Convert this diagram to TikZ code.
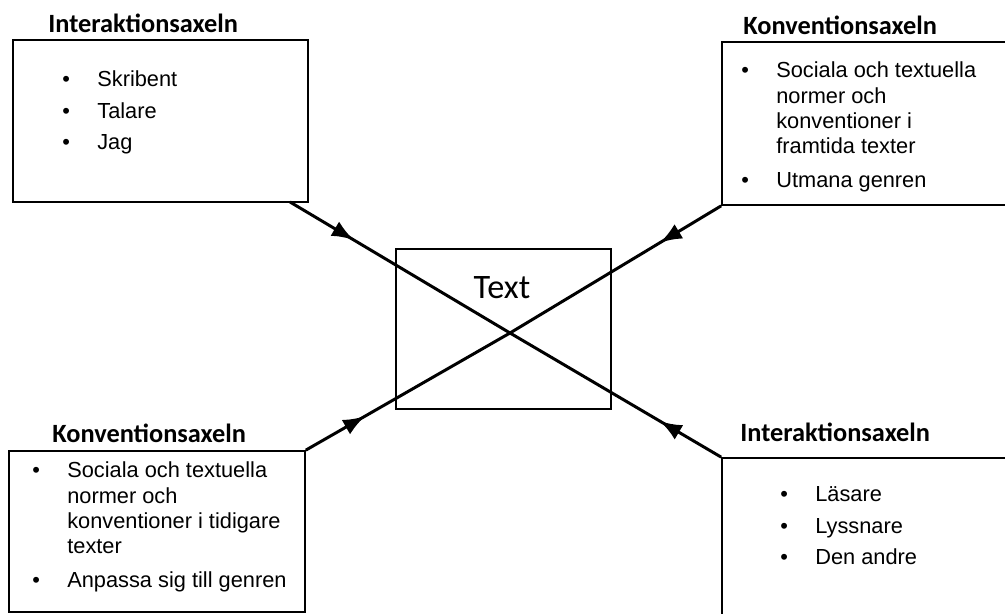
\documentclass[tikz,border=0pt]{standalone}
\usepackage{fontspec}
\setmainfont{Liberation Sans}
\newfontfamily\calibri{Carlito}
\usetikzlibrary{arrows.meta,decorations.markings}

\newcommand{\pkt}{\makebox[0.7cm][l]{\textbullet}}

\begin{document}
\begin{tikzpicture}[x=0.02cm,y=-0.02cm]
      \tikzstyle{boite}=[draw, line width=1pt, inner sep=0pt]
      \tikzstyle{titre}=[anchor=base west, inner sep=0pt, font=\calibri\bfseries\fontsize{15}{18}\selectfont]
      \tikzstyle{liste}=[anchor=base west, inner sep=0pt, font=\fontsize{12.4}{14.3}\selectfont]
      \tikzstyle{fleche}=[line width=1.7pt, decoration={markings, mark=at position 0.29 with {\arrow{Latex[length=12.5pt,width=9.5pt]}}}, postaction={decorate}]

      \clip (0,0) rectangle (1005,614);

      % boxes
      \node[boite, minimum width=5.9cm, minimum height=3.24cm] (IntH) at (160.5,121) {};
      \node[boite, minimum width=5.8cm, minimum height=3.26cm] (KonvH) at (867,123.5) {};
      \node[boite, minimum width=5.92cm, minimum height=3.22cm] (KonvB) at (157,531.5) {};
      \node[boite, minimum width=5.8cm, minimum height=3.28cm] (IntB) at (867,540) {};
      \node[draw, line width=0.6pt, minimum width=4.3cm, minimum height=3.2cm] (Txt) at (503.5,329) {};
      \node[font=\calibri\fontsize{19.5}{22}\selectfont] (TxtLabel) at (502,288) {Text};

      % titles
      \node[titre] (TitIH) at (48,33) {Interaktionsaxeln};
      \node[titre] (TitKH) at (743,35) {Konventionsaxeln};
      \node[titre] (TitKB) at (52,443) {Konventionsaxeln};
      \node[titre] (TitIB) at (740,442) {Interaktionsaxeln};

      % lists
      \node[liste] (ListIH) at (62,87) {\begin{tabular}[t]{@{}l@{}}
        \pkt Skribent\\[3.6pt] \pkt Talare\\[3.6pt] \pkt Jag \end{tabular}};
      \node[liste] (ListKH) at (741,78) {\begin{tabular}[t]{@{}l@{}l@{}}
        \pkt & Sociala och textuella\\ & normer och\\ & konventioner i\\ & framtida texter\\[5pt]
        \pkt & Utmana genren \end{tabular}};
      \node[liste] (ListKB) at (32,478) {\begin{tabular}[t]{@{}l@{}l@{}}
        \pkt & Sociala och textuella\\ & normer och\\ & konventioner i tidigare\\ & texter\\[5pt]
        \pkt & Anpassa sig till genren \end{tabular}};
      \node[liste] (ListIB) at (780,502) {\begin{tabular}[t]{@{}l@{}}
        \pkt L\"asare\\[3.4pt] \pkt Lyssnare\\[3.4pt] \pkt Den andre \end{tabular}};

      % axes
      \coordinate (Mitt) at (510,333);
      \coordinate (StartIH) at (290,202);
      \draw[fleche] (StartIH)--(Mitt);
      \draw[fleche] (KonvH.south west)--(Mitt);
      \draw[fleche] (KonvB.north east)--(Mitt);
      \draw[fleche] (IntB.north west)--(Mitt);

    \end{tikzpicture}
\end{document}
